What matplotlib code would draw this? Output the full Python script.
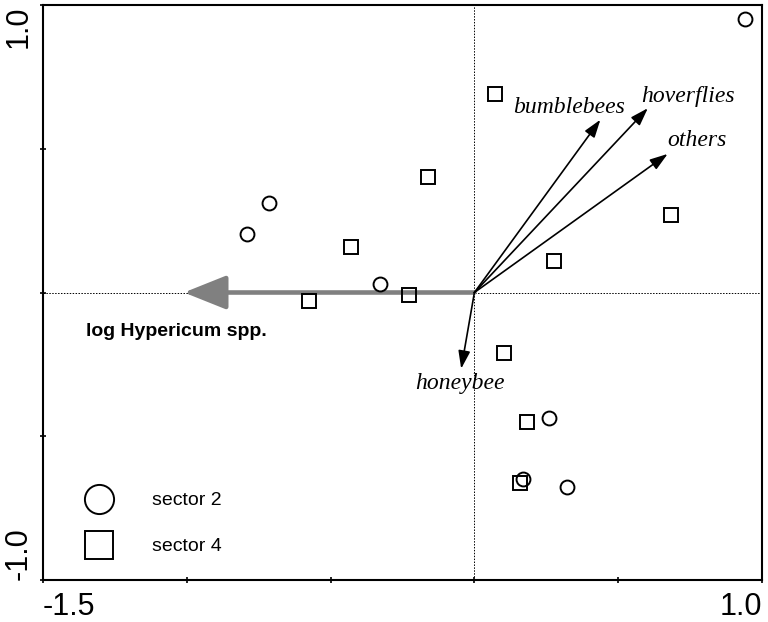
import numpy as np
import matplotlib.pyplot as plt

# sample scores
s2_x = [0.942, -0.713, -0.789, -0.327, 0.261, 0.170, 0.323]
s2_y = [0.950, 0.310, 0.202, 0.028, -0.435, -0.647, -0.678]
s4_x = [0.072, -0.163, -0.428, -0.574, -0.229, 0.685, 0.278, 0.104, 0.184, 0.160]
s4_y = [0.692, 0.403, 0.157, -0.028, -0.010, 0.268, 0.108, -0.212, -0.452, -0.661]

# species arrows
species = ['bumblebees', 'hoverflies', 'others', 'honeybee']
sp_x = [0.438, 0.603, 0.672, -0.046]
sp_y = [0.601, 0.641, 0.482, -0.265]
sp_lab_x = [0.330, 0.741, 0.775, -0.049]
sp_lab_y = [0.643, 0.682, 0.529, -0.317]

# environmental variable
env_name = 'log Hypericum spp.'
env_x, env_y = -1.01, 0.0

xticks = [-1.5, -1.0, -0.5, 0.0, 0.5, 1.0]
xlabels = ['-1.5', '', '', '', '', '1.0']
yticks = [-1.0, -0.5, 0.0, 0.5, 1.0]
ylabels = ['-1.0', '', '', '', '1.0']

plt.rcParams['font.family'] = ['Liberation Sans', 'DejaVu Sans']

fig = plt.figure(figsize=(7.68, 6.22), dpi=100)
ax = fig.add_axes([43/768, 1-580/622, (762-43)/768, (580-5)/622])
ax.set_xlim(-1.5, 1.0)
ax.set_ylim(-1.0, 1.0)

ax.axhline(0, color='black', lw=0.7, ls=(0, (1.5, 1.5)), zorder=1)
ax.axvline(0, color='black', lw=0.7, ls=(0, (1.5, 1.5)), zorder=1)

# env arrow (grey, heavy)
ax.annotate('', xy=(env_x, env_y), xytext=(0, 0),
            arrowprops=dict(arrowstyle='-|>,head_length=1.3,head_width=0.52',
                            mutation_scale=20, lw=3.3, color='#808080',
                            shrinkA=0, shrinkB=0), zorder=2)
ax.text(-1.352, -0.135, env_name, fontsize=14, fontweight='bold',
        ha='left', va='center')

ax.plot(s2_x, s2_y, 'o', ms=10, mfc='white', mec='black', mew=1.4, zorder=3)
ax.plot(s4_x, s4_y, 's', ms=10, mfc='none', mec='black', mew=1.4, zorder=3)

for name, x, y, lx, ly in zip(species, sp_x, sp_y, sp_lab_x, sp_lab_y):
    ax.annotate('', xy=(x, y), xytext=(0, 0),
                arrowprops=dict(arrowstyle='-|>,head_length=0.9,head_width=0.3',
                                mutation_scale=12, lw=1.2, color='black',
                                shrinkA=0, shrinkB=0), zorder=4)
    ax.text(lx, ly, name, fontsize=17, fontstyle='italic',
            family='Liberation Serif', ha='center', va='center')

# legend drawn by hand like the original
ax.plot([0.078], [0.141], 'o', ms=21, mfc='white', mec='black', mew=1.4,
        transform=ax.transAxes, clip_on=False)
ax.plot([0.078], [0.061], 's', ms=20, mfc='white', mec='black', mew=1.4,
        transform=ax.transAxes, clip_on=False)
ax.text(0.152, 0.139, 'sector 2', transform=ax.transAxes, fontsize=14, va='center')
ax.text(0.152, 0.059, 'sector 4', transform=ax.transAxes, fontsize=14, va='center')

for sp in ax.spines.values():
    sp.set_linewidth(1.5)

ax.set_xticks(xticks)
ax.set_xticklabels(xlabels, fontsize=22)
ax.set_yticks(yticks)
ax.set_yticklabels(ylabels, fontsize=22, rotation=90)
ax.tick_params(direction='inout', length=5, width=1.2, pad=6)
ax.tick_params(axis='y', pad=4)
xl = ax.get_xticklabels()
xl[0].set_ha('left')
xl[-1].set_ha('right')
yl = ax.get_yticklabels()
yl[0].set_va('bottom')
yl[-1].set_va('top')

fig.savefig('out.png', dpi=100)
